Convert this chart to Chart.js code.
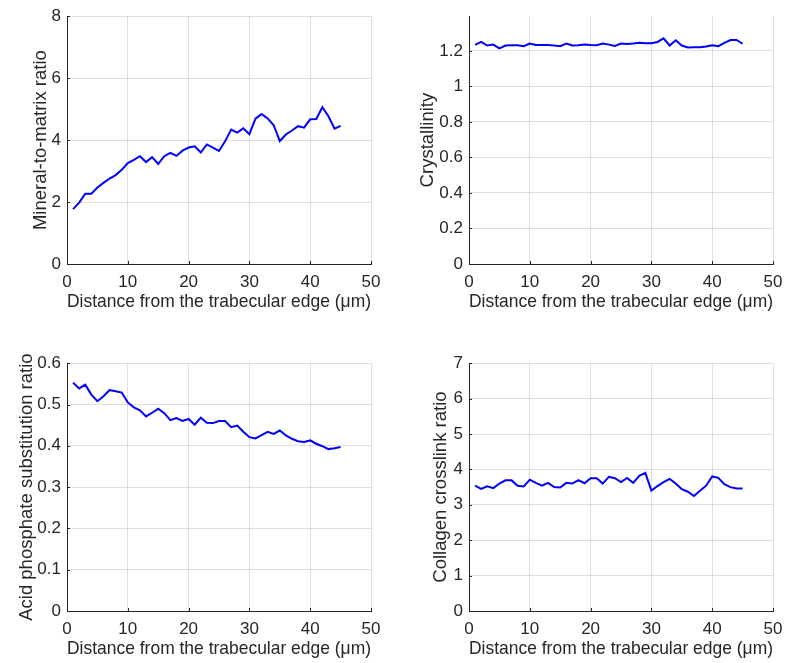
<!DOCTYPE html>
<html>
<head>
<meta charset="utf-8">
<script src="https://cdn.jsdelivr.net/npm/chart.js@4.4.0/dist/chart.umd.min.js"></script>
<style>
  html, body { margin: 0; padding: 0; background: #fff; width: 786px; height: 663px; overflow: hidden; }
  .panel { position: absolute; width: 393px; height: 316px; }
  .panel canvas { display: block; }
</style>
</head>
<body>
<div class="panel" style="left:0;top:0"><canvas id="mineral" width="393" height="316"></canvas></div>
<div class="panel" style="left:402px;top:0"><canvas id="crystal" width="393" height="316"></canvas></div>
<div class="panel" style="left:0;top:347px"><canvas id="acid" width="393" height="316"></canvas></div>
<div class="panel" style="left:402px;top:347px"><canvas id="crosslink" width="393" height="316"></canvas></div>
<script>
// Distance from the trabecular edge (µm), one sample per micrometre
const distance = [1, 2, 3, 4, 5, 6, 7, 8, 9, 10, 11, 12, 13, 14, 15, 16, 17, 18, 19, 20,
  21, 22, 23, 24, 25, 26, 27, 28, 29, 30, 31, 32, 33, 34, 35, 36, 37, 38, 39, 40,
  41, 42, 43, 44, 45];

const mineralToMatrix = [1.77, 1.98, 2.27, 2.27, 2.47, 2.62, 2.76, 2.87, 3.04, 3.26,
  3.36, 3.48, 3.29, 3.45, 3.23, 3.48, 3.59, 3.49, 3.66, 3.76,
  3.80, 3.60, 3.86, 3.76, 3.65, 3.96, 4.34, 4.24, 4.38, 4.19,
  4.69, 4.84, 4.70, 4.48, 3.97, 4.18, 4.31, 4.45, 4.40, 4.67,
  4.68, 5.06, 4.77, 4.37, 4.46];

const crystallinity = [1.233, 1.250, 1.230, 1.235, 1.214, 1.230, 1.232, 1.232, 1.226, 1.241,
  1.233, 1.233, 1.233, 1.230, 1.226, 1.241, 1.230, 1.232, 1.235, 1.233,
  1.232, 1.241, 1.235, 1.228, 1.241, 1.239, 1.241, 1.245, 1.243, 1.243,
  1.250, 1.270, 1.230, 1.259, 1.230, 1.219, 1.220, 1.220, 1.224, 1.232,
  1.226, 1.245, 1.261, 1.261, 1.240];

const acidPhosphate = [0.553, 0.539, 0.548, 0.524, 0.508, 0.520, 0.535, 0.532, 0.529, 0.505,
  0.493, 0.486, 0.471, 0.480, 0.490, 0.479, 0.462, 0.467, 0.460, 0.465,
  0.451, 0.468, 0.456, 0.455, 0.460, 0.460, 0.445, 0.449, 0.434, 0.421,
  0.418, 0.426, 0.434, 0.429, 0.437, 0.425, 0.417, 0.411, 0.409, 0.413,
  0.405, 0.399, 0.392, 0.394, 0.397];

const collagenCrosslink = [3.54, 3.45, 3.52, 3.47, 3.60, 3.69, 3.69, 3.54, 3.52, 3.71,
  3.62, 3.54, 3.62, 3.50, 3.49, 3.62, 3.60, 3.70, 3.61, 3.75,
  3.75, 3.60, 3.79, 3.75, 3.64, 3.76, 3.62, 3.82, 3.90, 3.40,
  3.53, 3.64, 3.73, 3.60, 3.44, 3.37, 3.25, 3.40, 3.54, 3.80,
  3.76, 3.58, 3.50, 3.46, 3.46];

// Axis limits and tick spacing
const distanceMax = 50;
const distanceStep = 10;
const xTitle = 'Distance from the trabecular edge (μm)';

const AXIS = '#262626';
const GRID = 'rgba(38,38,38,0.15)';
const FONT = "'Liberation Sans', Arial, Helvetica, sans-serif";

// Short tick marks pointing into the plot area, on the left and bottom axes
const innerTicks = {
  id: 'innerTicks',
  afterDatasetsDraw(chart) {
    const { ctx, chartArea } = chart;
    const xs = chart.scales.x, ys = chart.scales.y;
    ctx.save();
    ctx.strokeStyle = AXIS;
    ctx.lineWidth = 1;
    ctx.beginPath();
    xs.ticks.forEach(t => {
      const p = Math.round(xs.getPixelForValue(t.value)) + 0.5;
      ctx.moveTo(p, chartArea.bottom);
      ctx.lineTo(p, chartArea.bottom - 3);
    });
    ys.ticks.forEach(t => {
      const p = Math.round(ys.getPixelForValue(t.value)) + 0.5;
      ctx.moveTo(chartArea.left, p);
      ctx.lineTo(chartArea.left + 3, p);
    });
    ctx.stroke();
    ctx.restore();
  }
};

function plainNumber(v) {
  return String(+Number(v).toFixed(3));
}

function makePanel(id, values, yTitle, yMax, yStep, yTitlePad) {
  return new Chart(document.getElementById(id), {
    type: 'line',
    data: {
      datasets: [{
        data: distance.map((d, i) => ({ x: d, y: values[i] })),
        borderColor: '#0000ff',
        borderWidth: 2,
        pointRadius: 0,
        tension: 0,
        fill: false
      }]
    },
    options: {
      responsive: false,
      animation: false,
      events: [],
      layout: { padding: { top: 14, right: 22, left: 0, bottom: 0 } },
      plugins: { legend: { display: false }, tooltip: { enabled: false } },
      scales: {
        x: {
          type: 'linear',
          min: 0,
          max: distanceMax,
          afterFit: s => { s.height = 52; },
          grid: { color: GRID, drawTicks: false },
          border: { color: AXIS, width: 1 },
          ticks: {
            stepSize: distanceStep,
            color: AXIS,
            padding: 8,
            maxRotation: 0,
            font: { family: FONT, size: 17 },
            callback: plainNumber
          },
          title: {
            display: true,
            text: xTitle,
            color: AXIS,
            font: { family: FONT, size: 18.5 },
            padding: { top: 0, bottom: 3 }
          }
        },
        y: {
          type: 'linear',
          min: 0,
          max: yMax,
          afterFit: s => { s.width = 67; },
          grid: { color: GRID, drawTicks: false },
          border: { color: AXIS, width: 1 },
          ticks: {
            stepSize: yStep,
            includeBounds: false,
            color: AXIS,
            padding: 6,
            font: { family: FONT, size: 17 },
            callback: plainNumber
          },
          title: {
            display: true,
            text: yTitle,
            color: AXIS,
            font: { family: FONT, size: 18.5 },
            padding: { top: yTitlePad, bottom: 0 }
          }
        }
      }
    },
    plugins: [innerTicks]
  });
}

makePanel('mineral', mineralToMatrix, 'Mineral-to-matrix ratio', 8, 2, 30);
makePanel('crystal', crystallinity, 'Crystallinity', 1.395, 0.2, 15);
makePanel('acid', acidPhosphate, 'Acid phosphate substitution ratio', 0.6, 0.1, 16);
makePanel('crosslink', collagenCrosslink, 'Collagen crosslink ratio', 7, 1, 28);
</script>
</body>
</html>
